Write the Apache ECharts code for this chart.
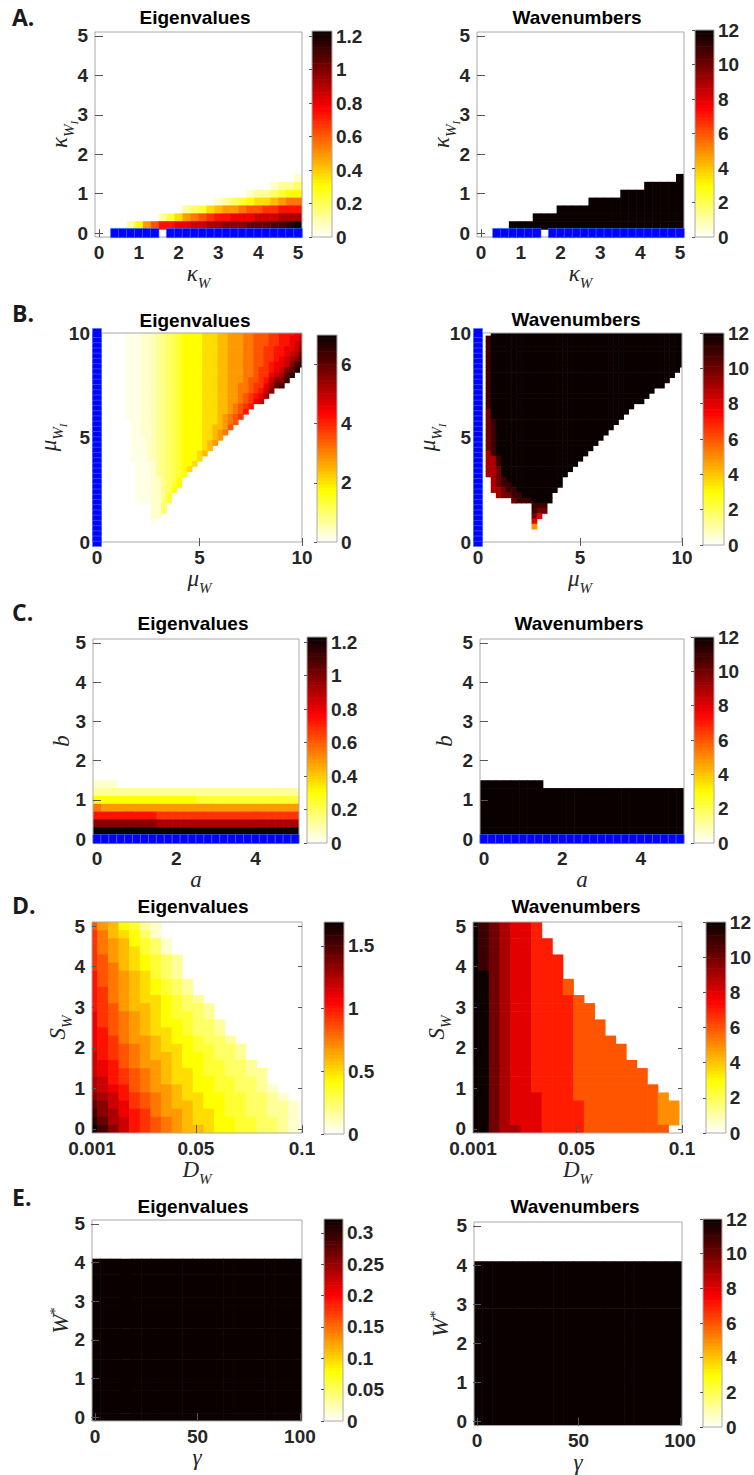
<!DOCTYPE html>
<html>
<head>
<meta charset="utf-8">
<title>Eigenvalues and wavenumbers</title>
<script src="https://cdn.jsdelivr.net/npm/echarts@6/dist/echarts.min.js"></script>
<style>
  html, body { margin: 0; padding: 0; background: #fff; }
  #main { width: 754px; height: 1475px; }
</style>
</head>
<body>
<div id="main"></div>
<script>
// ---------- parameter grids (cell centres) ----------
function seq(a, step, n) {
  var r = [];
  for (var i = 0; i < n; i++) r.push(+(a + i * step).toFixed(6));
  return r;
}
var kappaW = seq(0, 0.2, 26), kappaWI = seq(0, 0.2, 26);
var muW = seq(0, 0.25, 41), muWI = seq(0, 0.25, 41);
var aPar = seq(0, 0.2, 26), bPar = seq(0, 0.2, 26);
var dW = seq(0.001, 0.005, 20), sW = seq(0, 0.2, 26);
var gammaPar = seq(0, 5, 21), wStar = seq(0, 0.2, 26);

// ---------- tick labels ----------
var ticks0to5 = [0, 1, 2, 3, 4, 5];
var ticks0to10 = [0, 5, 10];
var ticksA = [0, 2, 4];
var ticksDW = [0.001, 0.05, 0.1];
var ticksGamma = [0, 50, 100];
var cbEigA = [0, 0.2, 0.4, 0.6, 0.8, 1, 1.2];
var cbEigB = [0, 2, 4, 6];
var cbEigD = [0, 0.5, 1, 1.5];
var cbEigE = [0, 0.05, 0.1, 0.15, 0.2, 0.25, 0.3];
var cbWave = [0, 2, 4, 6, 8, 10, 12];

// ---------- cell values ----------
// one string per row, top row (largest y) first; spaces are only for reading.
// eigenvalue grids: each char is a colour level 0..k (0..20) of the colourbar range,
//   '.' ',' ';' ':' are the half levels 0.5 1.5 2.5 3.5
// wavenumber grids: each char is the wavenumber in base 13 (c = 12)
var aEig = [
  '', '', '', '', '', '', '', '', '', '', '', '', '', '', '', '', '', '',
  '00000 00000 00000 00000 00000 1',
  '00000 00000 00000 00000 00122 3',
  '00000 00000 00000 00001 22345 5',
  '00000 00000 00000 12345 66789 9',
  '00000 00000 02346 7889a abbcc c',
  '00000 00024 689ab ccddd eeeff f',
  '00002 58acc ddeef fgggh hhiij k',
  ''
];
var aWave = [
  '', '', '', '', '', '', '', '', '', '', '', '', '', '', '', '', '', '',
  '00000 00000 00000 00000 00000 c',
  '00000 00000 00000 00000 0cccc c',
  '00000 00000 00000 000cc ccccc c',
  '00000 00000 0000c ccccc ccccc c',
  '00000 00000 ccccc ccccc ccccc c',
  '00000 00ccc ccccc ccccc ccccc c',
  '0000c ccccc ccccc ccccc ccccc c',
  ''
];
var aBlue = [0.4, 0.6, 0.8, 1, 1.2, 1.4, 1.8, 2, 2.2, 2.4, 2.6, 2.8, 3, 3.2, 3.4, 3.6, 3.8, 4, 4.2, 4.4, 4.6, 4.8, 5];

var bEig = [
  '00000 0...1 1,2;3 :4555 56667 78889 9aaab bcccd d',
  '00000 0...1 1,2;3 :4555 56667 78889 9aaab bccdd e',
  '00000 0...1 1,2;3 :4555 56667 78889 9aaab bccde f',
  '00000 0...1 1,2;3 :4555 56667 78889 9aabb ccdde g',
  '00000 0...1 1,2;3 :4555 56667 78889 9aabb ccdef h',
  '00000 0...1 1,2;3 :4555 56667 78889 9aabb cdefg i',
  '00000 0...1 1,2;3 :4555 56667 78889 9aabc ddegi k',
  '00000 0...1 1,2;3 :4555 56667 78889 9abbc deghj 0',
  '00000 0...1 1,2;3 :4555 56667 78889 9abbd efhj0 0',
  '00000 0...1 1,2;3 :4555 56667 78889 aabce ggi00 0',
  '00000 0...1 1,2;3 :4555 56667 78899 abbdf hi000 0',
  '00000 0...1 1,2;3 :4555 56667 78899 abceg 00000 0',
  '00000 0...1 1,2;3 :4555 56667 7889a bcdf0 00000 0',
  '00000 0...1 1,2;3 :4555 56667 7889a bde00 00000 0',
  '00000 0...1 1,2;3 :4555 56667 789ab c0000 00000 0',
  '00000 0...1 1,2;3 :4555 56667 789ac',
  '00000 0...1 1,2;3 :4555 56667 89ab0',
  '00000 00..1 1,2;3 :4555 56667 89a00',
  '00000 00..1 1,2;3 :4555 56677 8a',
  '00000 00..1 1,2;3 :4555 56678 9',
  '00000 00... 1,2;3 :4555 56678',
  '00000 00... 1,2;3 :4555 5678',
  '00000 00... 1,2;3 :4555 567',
  '00000 00... 1,2;3 :4555 67',
  '00000 00... 1,2;3 :4555 6',
  '00000 000.. .12;3 :4556',
  '00000 000.. .12;3 :456',
  '00000 000.. .12;3 :45',
  '00000 000.. .11;3 :5',
  '00000 000.. .11;3 45',
  '00000 000.. .11;3 5',
  '00000 000.. .11;4',
  '00000 000.. .11;4',
  '00000 00000 01130',
  '00000 00000 01130',
  '00000 00000 011',
  '00000 00000 0.',
  '', '', '', ''
];
var bWave = [
  '000cc ccccc ccccc ccccc ccccc ccccc ccccc ccccc c',
  '00bcc ccccc ccccc ccccc ccccc ccccc ccccc ccccc c',
  '00bcc ccccc ccccc ccccc ccccc ccccc ccccc ccccc c',
  '00bcc ccccc ccccc ccccc ccccc ccccc ccccc ccccc c',
  '00bcc ccccc ccccc ccccc ccccc ccccc ccccc ccccc c',
  '00bcc ccccc ccccc ccccc ccccc ccccc ccccc ccccc c',
  '00bcc ccccc ccccc ccccc ccccc ccccc ccccc ccccc c',
  '00bcc ccccc ccccc ccccc ccccc ccccc ccccc ccccc 0',
  '00bcc ccccc ccccc ccccc ccccc ccccc ccccc cccc0',
  '00bcc ccccc ccccc ccccc ccccc ccccc ccccc ccc',
  '00bcc ccccc ccccc ccccc ccccc ccccc ccccc cc',
  '00bcc ccccc ccccc ccccc ccccc ccccc ccccc',
  '00bcc ccccc ccccc ccccc ccccc ccccc cccc',
  '00bcc ccccc ccccc ccccc ccccc ccccc ccc',
  '00bcc ccccc ccccc ccccc ccccc ccccc c',
  '00acc ccccc ccccc ccccc ccccc ccccc',
  '00acc ccccc ccccc ccccc ccccc cccc',
  '00abc ccccc ccccc ccccc ccccc ccc',
  '00abc ccccc ccccc ccccc ccccc cc',
  '00abc ccccc ccccc ccccc ccccc c',
  '00abc ccccc ccccc ccccc ccccc',
  '00abc ccccc ccccc ccccc cccc',
  '00abc ccccc ccccc ccccc ccc',
  '009bc ccccc ccccc ccccc cc',
  '0099b ccccc ccccc ccccc c',
  '0099b ccccc ccccc ccccc',
  '0099a ccccc ccccc cccc',
  '0099a ccccc ccccc ccc',
  '0009a bcccc ccccc cc',
  '0009a bbccc ccccc cc',
  '00099 abbcc ccccc c',
  '00009 aabbc ccccc',
  '00000 00abb bcccc',
  '00000 00000 0bbb',
  '00000 00000 0baa',
  '00000 00000 0a8',
  '00000 00000 08',
  '00000 00000 05',
  '', '', ''
];

var cEig = [
  '', '', '', '', '', '', '', '', '', '', '', '', '', '', '', '', '', '',
  '111',
  '22222 22222 22222 22222 22222 2',
  '55555 55555 55544 44444 44444 4',
  '98888 88888 88888 88888 88888 8',
  'ccccc cccbb bbbbb bbbbb bbbbb b',
  'ggggg gggff fffff fffff fffff f',
  'kkkkk kkkkk kkkkk kkkkk kkkkk k',
  ''
];
var cWave = [
  '', '', '', '', '', '', '', '', '', '', '', '', '', '', '', '', '', '',
  'ccccc ccc',
  'ccccc ccccc ccccc ccccc ccccc c',
  'ccccc ccccc ccccc ccccc ccccc c',
  'ccccc ccccc ccccc ccccc ccccc c',
  'ccccc ccccc ccccc ccccc ccccc c',
  'ccccc ccccc ccccc ccccc ccccc c',
  'ccccc ccccc ccccc ccccc ccccc c',
  ''
];

var dEig = [
  'a8754 21',
  'b9765 31',
  'b9875 431',
  'b9876 431',
  'ba876 5432',
  'ba976 5432',
  'ca987 6432',
  'ca987 65432',
  'cb987 65432',
  'cb987 66543 2',
  'cba87 76543 32',
  'dba98 76544 32',
  'dba98 76554 332',
  'dca98 76654 332',
  'dcb98 87655 4332',
  'dcba9 87665 44332',
  'ecba9 87765 54332',
  'edca9 88765 54433 2',
  'edcba 98766 54433 22',
  'fecba 98766 55443 32',
  'fedca 98876 55443 321',
  'gfecb a9876 65544 3321',
  'hgedb a9877 65544 33221',
  'igfdc b9887 66544 33221',
  'jhfec ba987 66554 43321',
  'kigec ba987 76554 43321'
];
var dWave = [
  'cba98 87',
  'cba98 87',
  'cba98 877',
  'cba98 877',
  'cba98 8777',
  'cba98 8777',
  'cca98 8777',
  'cca98 87776',
  'cca98 87776',
  'cca98 87777 6',
  'cca98 87777 66',
  'cca98 87777 66',
  'cca98 87777 666',
  'cca98 87777 666',
  'cca98 87777 6666',
  'cca98 87777 66666',
  'cca98 87777 66666',
  'cca98 87777 66666 6',
  'cca98 87777 66666 66',
  'cca98 87777 66666 66',
  'cca98 87777 66666 666',
  'cca98 88777 66666 6665',
  'cca98 88777 76666 66655',
  'cca98 88777 76666 66655',
  'cca98 88777 76666 66655',
  'cca99 88777 76666 6666'
];

var eEig = [
  '', '', '', '', '',
  'kkkkk kkkkk kkkkk kkkkk k', 'kkkkk kkkkk kkkkk kkkkk k', 'kkkkk kkkkk kkkkk kkkkk k',
  'kkkkk kkkkk kkkkk kkkkk k', 'kkkkk kkkkk kkkkk kkkkk k', 'kkkkk kkkkk kkkkk kkkkk k',
  'kkkkk kkkkk kkkkk kkkkk k', 'kkkkk kkkkk kkkkk kkkkk k', 'kkkkk kkkkk kkkkk kkkkk k',
  'kkkkk kkkkk kkkkk kkkkk k', 'kkkkk kkkkk kkkkk kkkkk k', 'kkkkk kkkkk kkkkk kkkkk k',
  'kkkkk kkkkk kkkkk kkkkk k', 'kkkkk kkkkk kkkkk kkkkk k', 'kkkkk kkkkk kkkkk kkkkk k',
  'kkkkk kkkkk kkkkk kkkkk k', 'kkkkk kkkkk kkkkk kkkkk k', 'kkkkk kkkkk kkkkk kkkkk k',
  'kkkkk kkkkk kkkkk kkkkk k', 'kkkkk kkkkk kkkkk kkkkk k', 'kkkkk kkkkk kkkkk kkkkk k'
];
var eWave = [
  '', '', '', '', '',
  'ccccc ccccc ccccc ccccc c', 'ccccc ccccc ccccc ccccc c', 'ccccc ccccc ccccc ccccc c',
  'ccccc ccccc ccccc ccccc c', 'ccccc ccccc ccccc ccccc c', 'ccccc ccccc ccccc ccccc c',
  'ccccc ccccc ccccc ccccc c', 'ccccc ccccc ccccc ccccc c', 'ccccc ccccc ccccc ccccc c',
  'ccccc ccccc ccccc ccccc c', 'ccccc ccccc ccccc ccccc c', 'ccccc ccccc ccccc ccccc c',
  'ccccc ccccc ccccc ccccc c', 'ccccc ccccc ccccc ccccc c', 'ccccc ccccc ccccc ccccc c',
  'ccccc ccccc ccccc ccccc c', 'ccccc ccccc ccccc ccccc c', 'ccccc ccccc ccccc ccccc c',
  'ccccc ccccc ccccc ccccc c', 'ccccc ccccc ccccc ccccc c', 'ccccc ccccc ccccc ccccc c'
];

// colourbar maxima
var cmaxEigA = 1.23, cmaxEigB = 7.0, cmaxEigC = 1.23, cmaxEigD = 1.69, cmaxEigE = 0.322, cmaxWave = 12;

// ---------- styling ----------
var HOT = ['#ffffff', '#ffff80', '#ffff00', '#ffaa00', '#ff5500', '#ff0000', '#aa0000', '#550000', '#0b0000'];
var FONT = '"Liberation Sans", Arial, sans-serif';
var SERIF = '"Liberation Serif", "DejaVu Serif", serif';
var INK = '#262626';
var EDGE = '#a8a8a8';
var RICH = {
  i: { fontFamily: SERIF, fontStyle: 'italic', fontSize: 23, color: INK, verticalAlign: 'bottom', padding: [0, 0, 5, 0] },
  s: { fontFamily: SERIF, fontStyle: 'italic', fontSize: 15, color: INK, verticalAlign: 'bottom' },
  j: { fontFamily: SERIF, fontStyle: 'italic', fontSize: 23, color: INK, verticalAlign: 'bottom', padding: [0, 0, 8, 0] },
  t: { fontFamily: SERIF, fontStyle: 'italic', fontSize: 15, color: INK, verticalAlign: 'bottom', padding: [0, 0, 3, 0] },
  u: { fontFamily: SERIF, fontStyle: 'italic', fontSize: 11, color: INK, verticalAlign: 'bottom' },
  m: { fontFamily: SERIF, fontStyle: 'italic', fontSize: 23, color: INK, verticalAlign: 'bottom' },
  p: { fontFamily: SERIF, fontSize: 15, color: INK, verticalAlign: 'bottom', padding: [0, 0, 10, 0] }
};
var HALF = { '.': 0.5, ',': 1.5, ';': 2.5, ':': 3.5 };

function rowsToCells(rows, xs, ys, radix, full, cmax) {
  var out = [];
  for (var k = 0; k < rows.length; k++) {
    var s = rows[k].replace(/\s+/g, '');
    var y = ys[ys.length - 1 - k];
    for (var i = 0; i < s.length && i < xs.length; i++) {
      var ch = s.charAt(i);
      var lv = HALF[ch] != null ? HALF[ch] : parseInt(ch, radix);
      if (lv > 0) out.push([xs[i], y, cmax * lv / full]);
    }
  }
  return out;
}

function eig(rows, xs, ys, cmax) { return rowsToCells(rows, xs, ys, 21, 20, cmax); }
function wave(rows, xs, ys) { return rowsToCells(rows, xs, ys, 13, 12, 12); }

var panels = [
  { title: 'Eigenvalues', head: [195, 17], box: [95, 32, 207, 205], cb: [312, 31, 20, 206],
    data: eig(aEig, kappaW, kappaWI, cmaxEigA), cmax: cmaxEigA, cbTicks: cbEigA,
    xr: [-0.1, 5.1], yr: [-0.1, 5.1], xt: ticks0to5, yt: ticks0to5, dx: 0.2, dy: 0.2,
    blue: aBlue.map(function (v) { return [v, 0]; }), blueSize: [8.6, 9.3],
    xName: '{i|κ}{s|W}', yName: '{j|κ}{t|W}{u|I}', xGap: 24, yGap: 16 },
  { title: 'Wavenumbers', head: [577, 17], box: [477, 32, 207, 205], cb: [695, 30, 19, 207],
    data: wave(aWave, kappaW, kappaWI), cmax: cmaxWave, cbTicks: cbWave,
    xr: [-0.1, 5.1], yr: [-0.1, 5.1], xt: ticks0to5, yt: ticks0to5, dx: 0.2, dy: 0.2,
    blue: aBlue.map(function (v) { return [v, 0]; }), blueSize: [8.6, 9.3],
    xName: '{i|κ}{s|W}', yName: '{j|κ}{t|W}{u|I}', xGap: 24, yGap: 16 },
  { title: 'Eigenvalues', head: [195, 320], box: [97, 333, 205, 209], cb: [317, 335, 20, 207],
    data: eig(bEig, muW, muWI, cmaxEigB), cmax: cmaxEigB, cbTicks: cbEigB,
    xr: [0, 10], yr: [0, 10], xt: ticks0to10, yt: ticks0to10, dx: 0.25, dy: 0.25,
    blue: muWI.map(function (v) { return [0, v]; }), blueSize: [9, 9],
    xName: '{i|μ}{s|W}', yName: '{j|μ}{t|W}{u|I}', xGap: 23, yGap: 29 },
  { title: 'Wavenumbers', head: [576, 319], box: [478, 333, 204, 209], cb: [703, 333, 21, 212],
    data: wave(bWave, muW, muWI), cmax: cmaxWave, cbTicks: cbWave,
    xr: [0, 10], yr: [0, 10], xt: ticks0to10, yt: ticks0to10, dx: 0.25, dy: 0.25,
    blue: muWI.map(function (v) { return [0, v]; }), blueSize: [9, 9],
    xName: '{i|μ}{s|W}', yName: '{j|μ}{t|W}{u|I}', xGap: 23, yGap: 31 },
  { title: 'Eigenvalues', head: [193, 623], box: [93, 639, 206, 204], cb: [307, 637, 20, 206],
    data: eig(cEig, aPar, bPar, cmaxEigC), cmax: cmaxEigC, cbTicks: cbEigA,
    xr: [-0.1, 5.1], yr: [-0.1, 5.1], xt: ticksA, yt: ticks0to5, dx: 0.2, dy: 0.2,
    blue: aPar.map(function (v) { return [v, 0]; }), blueSize: [8, 9],
    xName: '{m|a}', yName: '{m|b}', xGap: 19, yGap: 20 },
  { title: 'Wavenumbers', head: [579, 623], box: [480, 639, 204, 204], cb: [694, 637, 20, 206],
    data: wave(cWave, aPar, bPar), cmax: cmaxWave, cbTicks: cbWave,
    xr: [-0.1, 5.1], yr: [-0.1, 5.1], xt: ticksA, yt: ticks0to5, dx: 0.2, dy: 0.2,
    blue: aPar.map(function (v) { return [v, 0]; }), blueSize: [8, 9],
    xName: '{m|a}', yName: '{m|b}', xGap: 19, yGap: 24 },
  { title: 'Eigenvalues', head: [193, 906], box: [92, 922, 210, 211], cb: [324, 922, 20, 212],
    data: eig(dEig, dW, sW, cmaxEigD), cmax: cmaxEigD, cbTicks: cbEigD,
    xr: [0.001, 0.1], yr: [-0.1, 5.1], xt: ticksDW, yt: ticks0to5, dx: 0.005, dy: 0.2,
    edgeLabel: ticksDW[0], blue: null,
    xName: '{i|D}{s|W}', yName: '{i|S}{s|W}', xGap: 23, yGap: 18 },
  { title: 'Wavenumbers', head: [576, 906], box: [473, 922, 209, 211], cb: [706, 922, 20, 211],
    data: wave(dWave, dW, sW), cmax: cmaxWave, cbTicks: cbWave,
    xr: [0.001, 0.1], yr: [-0.1, 5.1], xt: ticksDW, yt: ticks0to5, dx: 0.005, dy: 0.2,
    edgeLabel: ticksDW[0], blue: null,
    xName: '{i|D}{s|W}', yName: '{i|S}{s|W}', xGap: 23, yGap: 20 },
  { title: 'Eigenvalues', head: [193, 1206], box: [92, 1220, 210, 201], cb: [324, 1219, 19, 202],
    data: eig(eEig, gammaPar, wStar, cmaxEigE), cmax: cmaxEigE, cbTicks: cbEigE,
    xr: [-1.5, 101], yr: [-0.1, 5.1], xt: ticksGamma, yt: ticks0to5, dx: 5, dy: 0.2,
    blue: null,
    xName: '{m|γ}', yName: '{m|W}{p|*}', xGap: 18, yGap: 20 },
  { title: 'Wavenumbers', head: [575, 1206], box: [474, 1222, 208, 204], cb: [703, 1219, 19, 208],
    data: wave(eWave, gammaPar, wStar), cmax: cmaxWave, cbTicks: cbWave,
    xr: [-1.5, 101], yr: [-0.1, 5.1], xt: ticksGamma, yt: ticks0to5, dx: 5, dy: 0.2,
    blue: null,
    xName: '{m|γ}', yName: '{m|W}{p|*}', xGap: 22, yGap: 22 }
];
var letters = [['A.', 12, 17], ['B.', 12, 313], ['C.', 12, 612], ['D.', 12, 905], ['E.', 12, 1197]];

function tickFmt(v) { return String(Math.round(v * 1e6) / 1e6); }
var TICK_FONT = 'bold 19px ' + FONT;
var tickText = { fontFamily: FONT, fontWeight: 'bold', fontSize: 19, lineHeight: 14, color: INK };
var LABEL_MARGIN_X = 8;

function textWidth(str, font) {
  var ctx = document.createElement('canvas').getContext('2d');
  ctx.font = font;
  return ctx.measureText(str).width;
}

function cellRenderer(dx, dy) {
  return function (params, api) {
    var x = api.value(0), y = api.value(1);
    var a = api.coord([x - dx / 2, y + dy / 2]);
    var b = api.coord([x + dx / 2, y - dy / 2]);
    return {
      type: 'rect',
      shape: { x: a[0], y: a[1], width: b[0] - a[0] + 0.6, height: b[1] - a[1] + 0.6 },
      style: { fill: api.visual('color') }
    };
  };
}
function barRenderer(h) {
  return function (params, api) {
    var v = api.value(1);
    var a = api.coord([0, v + h / 2]);
    var b = api.coord([1, v - h / 2]);
    return {
      type: 'rect',
      shape: { x: a[0], y: a[1], width: b[0] - a[0], height: b[1] - a[1] + 0.6 },
      style: { fill: api.visual('color') }
    };
  };
}

var grids = [], xAxes = [], yAxes = [], series = [], vms = [], gfx = [];

panels.forEach(function (p) {
  var g = grids.length;
  grids.push({ left: p.box[0], top: p.box[1], width: p.box[2], height: p.box[3],
    show: true, borderColor: EDGE, borderWidth: 1, z: 3 });
  var xi = xAxes.length;
  p.xAxisIdx = xi;
  // the edge label (if any) is drawn separately so it stays centred on its tick
  var labelValues = p.xt.filter(function (v) { return v !== p.edgeLabel; });
  ['bottom', 'top'].forEach(function (pos) {
    var main = pos === 'bottom';
    xAxes.push({
      gridIndex: g, type: 'value', position: pos, min: p.xr[0], max: p.xr[1], z: 4,
      axisLine: { show: false }, splitLine: { show: false },
      axisTick: { show: true, inside: true, length: 4, lineStyle: { color: '#555' }, customValues: p.xt },
      axisLabel: main ? Object.assign({ show: true, margin: LABEL_MARGIN_X, customValues: labelValues, formatter: tickFmt }, tickText) : { show: false },
      name: main ? p.xName : '', nameLocation: 'middle', nameGap: p.xGap,
      nameTextStyle: { rich: RICH }
    });
  });
  var yi = yAxes.length;
  ['left', 'right'].forEach(function (pos) {
    var main = pos === 'left';
    yAxes.push({
      gridIndex: g, type: 'value', position: pos, min: p.yr[0], max: p.yr[1], z: 4,
      axisLine: { show: false }, splitLine: { show: false },
      axisTick: { show: true, inside: true, length: 4, lineStyle: { color: '#555' }, customValues: p.yt },
      axisLabel: main ? Object.assign({ show: true, margin: 7, customValues: p.yt, formatter: tickFmt }, tickText) : { show: false },
      name: main ? p.yName : '', nameLocation: 'middle', nameGap: p.yGap, nameMoveOverlap: false,
      nameTextStyle: { rich: RICH }
    });
  });

  // colourbar
  var cg = grids.length;
  grids.push({ left: p.cb[0], top: p.cb[1], width: p.cb[2], height: p.cb[3],
    show: true, borderColor: EDGE, borderWidth: 1, z: 3 });
  var cxi = xAxes.length;
  xAxes.push({ gridIndex: cg, type: 'value', min: 0, max: 1, show: false });
  var cyi = yAxes.length;
  yAxes.push({
    gridIndex: cg, type: 'value', position: 'right', min: 0, max: p.cmax, z: 4,
    axisLine: { show: false }, splitLine: { show: false },
    axisTick: { show: true, inside: true, length: 3, lineStyle: { color: '#555' }, customValues: p.cbTicks },
    axisLabel: Object.assign({ margin: 4, customValues: p.cbTicks, formatter: tickFmt }, tickText)
  });

  var hs = series.length;
  series.push({ type: 'custom', xAxisIndex: xi, yAxisIndex: yi, clip: true, silent: true,
    renderItem: cellRenderer(p.dx, p.dy), data: p.data, z: 2 });
  var levels = [];
  for (var k = 0; k < 64; k++) { var v = (k + 0.5) * p.cmax / 64; levels.push([0.5, v, v]); }
  var cs = series.length;
  series.push({ type: 'custom', xAxisIndex: cxi, yAxisIndex: cyi, clip: true, silent: true,
    renderItem: barRenderer(p.cmax / 64), data: levels, z: 2 });
  vms.push({ type: 'continuous', show: false, min: 0, max: p.cmax, dimension: 2,
    seriesIndex: [hs, cs], inRange: { color: HOT } });

  if (p.blue) {
    series.push({ type: 'scatter', xAxisIndex: xi, yAxisIndex: yi, data: p.blue,
      symbol: 'rect', symbolSize: p.blueSize, clip: false, silent: true, z: 10,
      itemStyle: { color: '#0000ff', borderColor: '#3d7bff', borderWidth: 0.6, opacity: 1 } });
  }

  gfx.push({ type: 'text', x: p.head[0], y: p.head[1], silent: true,
    style: { text: p.title, fill: '#000', font: 'bold 19px ' + FONT,
      align: 'center', verticalAlign: 'middle', textAlign: 'center', textVerticalAlign: 'middle' } });
});

letters.forEach(function (l) {
  gfx.push({ type: 'text', x: l[1], y: l[2], silent: true,
    style: { text: l[0], fill: '#1a1a1a', font: 'bold 23px "Open Sans", ' + FONT,
      align: 'left', verticalAlign: 'middle', textAlign: 'left', textVerticalAlign: 'middle' } });
});

var chart = echarts.init(document.getElementById('main'), null, { renderer: 'svg' });
chart.setOption({
  animation: false,
  backgroundColor: '#ffffff',
  grid: grids,
  xAxis: xAxes,
  yAxis: yAxes,
  visualMap: vms,
  series: series,
  graphic: gfx
});

// edge tick labels placed through the axis scale, centred on their tick
panels.forEach(function (p) {
  if (p.edgeLabel == null) return;
  var px = chart.convertToPixel({ xAxisIndex: p.xAxisIdx }, p.edgeLabel);
  var txt = tickFmt(p.edgeLabel);
  var w = textWidth(txt, TICK_FONT);
  gfx.push({ type: 'text', x: px - w / 2, y: p.box[1] + p.box[3] + LABEL_MARGIN_X + 7, silent: true,
    style: { text: txt, fill: INK, font: TICK_FONT,
      align: 'left', verticalAlign: 'middle', textAlign: 'left', textVerticalAlign: 'middle' } });
});
chart.setOption({ graphic: gfx });
</script>
</body>
</html>
